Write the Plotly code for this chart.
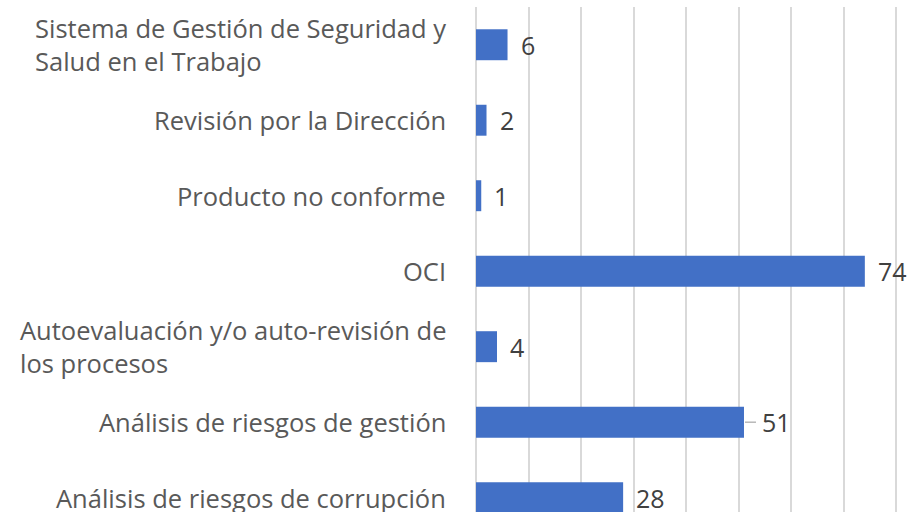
import plotly.graph_objects as go

categories = [
    "Sistema de Gestión de Seguridad y<br>Salud en el Trabajo",
    "Revisión por la Dirección",
    "Producto no conforme",
    "OCI",
    "Autoevaluación y/o auto-revisión de<br>los procesos",
    "Análisis de riesgos de gestión",
    "Análisis de riesgos de corrupción",
]
values = [6, 2, 1, 74, 4, 51, 28]
value_labels = [str(v) for v in values]

FONT = "Open Sans"
ypos = list(range(len(categories)))

fig = go.Figure()
fig.add_trace(go.Bar(
    y=ypos, x=values, orientation="h",
    marker=dict(color="#4270C6", line=dict(width=0)),
    width=0.41,
    hoverinfo="skip",
))

annotations = []
for i, (c, v, t) in enumerate(zip(categories, values, value_labels)):
    annotations.append(dict(
        x=0, xref="paper", y=i, yref="y", text=c, showarrow=False,
        xanchor="right", yanchor="middle", align="left", xshift=-28,
        font=dict(family=FONT, size=25.5, color="#595959"),
    ))
    annotations.append(dict(
        x=v, xref="x", y=i, yref="y", text=t, showarrow=False,
        xanchor="left", yanchor="middle", xshift=11 if v != 51 else 16,
        font=dict(family=FONT, size=25, color="#404040"),
    ))

# small leader line next to the "51" label
lead_i = values.index(51)
fig.add_shape(type="line", xref="x", yref="y", xsizemode="pixel",
              xanchor=values[lead_i], x0=1, x1=12, y0=lead_i, y1=lead_i,
              line=dict(color="#A6A6A6", width=1.2))

fig.update_layout(
    width=909, height=512,
    margin=dict(l=476, r=10, t=7, b=0),
    paper_bgcolor="white", plot_bgcolor="white",
    showlegend=False,
    annotations=annotations,
    xaxis=dict(range=[0, 80.5], dtick=10, showgrid=True, gridcolor="#D9D9D9",
               gridwidth=1.5, zeroline=True, zerolinecolor="#D9D9D9",
               zerolinewidth=1.5, showticklabels=False, ticks=""),
    yaxis=dict(range=[6.19, -0.5], showticklabels=False, showgrid=False,
               zeroline=False, ticks=""),
)

fig.write_html("out.html",
               config={"displayModeBar": False},
               post_script="document.body.style.margin='0';"
                           "document.body.style.overflow='hidden';")
